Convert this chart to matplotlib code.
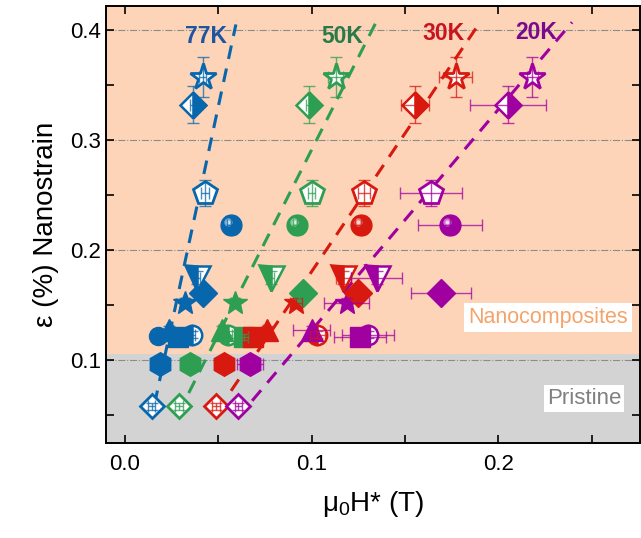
import numpy as np
import matplotlib
matplotlib.use("Agg")
import matplotlib.pyplot as plt
from matplotlib.ticker import MultipleLocator
from matplotlib.transforms import offset_copy

plt.rcParams['font.family'] = ['Liberation Sans', 'DejaVu Sans']

temps = ['77K', '50K', '30K', '20K']
colors = ['#0866AC', '#2E9E52', '#D7190F', '#A0009F']
text_colors = ['#1E55A0', '#2A7A48', '#C8141E', '#7A0A8C']
nan = np.nan

# sample y values (nanostrain, %) and y errors
samples = ['open_diamond', 'hexagon', 'circle', 'half_circle', 'tri_up', 'square',
           'star', 'diamond', 'tri_down', 'sphere', 'pentagon', 'half_diamond', 'open_star']
y_vals = [0.058, 0.0965, 0.122, 0.123, 0.127, 0.121, 0.152, 0.161, 0.175, 0.223, 0.252, 0.332, 0.357]
y_errs = [0.003, 0.003, 0.003, 0.003, 0.004, 0.003, 0.004, 0.004, 0.006, 0.008, 0.012, 0.017, 0.018]

# mu0 H* (T) for each sample at 77K, 50K, 30K, 20K
x_open_diamond = [0.0143, 0.0289, 0.0487, 0.0607]
x_hexagon = [0.0188, 0.0348, 0.0530, 0.0670]
x_circle = [0.0179, nan, nan, nan]
x_half_circle = [0.0357, 0.0554, 0.1030, 0.1300]
x_tri_up = [0.0237, 0.0518, 0.0759, 0.1000]
x_square = [0.0286, 0.0637, 0.0687, 0.1260]
x_star = [0.0320, 0.0590, 0.0916, 0.1187]
x_diamond = [0.0416, 0.0952, 0.1250, 0.1693]
x_tri_down = [0.0384, 0.0780, 0.1170, 0.1348]
x_sphere = [0.0568, 0.0921, 0.1264, 0.1741]
x_pentagon = [0.0429, 0.1000, 0.1280, 0.1639]
x_half_diamond = [0.0366, 0.0988, 0.1554, 0.2053]
x_open_star = [0.0416, 0.1130, 0.1771, 0.2182]

# horizontal errors
xe_open_diamond = [0.002, 0.002, 0.002, 0.002]
xe_hexagon = [0.002, 0.002, 0.002, 0.007]
xe_circle = [0.002, nan, nan, nan]
xe_half_circle = [0.002, 0.002, 0.004, 0.014]
xe_tri_up = [0.002, 0.002, 0.002, 0.010]
xe_square = [0.002, 0.002, 0.002, 0.014]
xe_star = [0.002, 0.002, 0.003, 0.012]
xe_diamond = [0.002, 0.002, 0.003, 0.0163]
xe_tri_down = [0.002, 0.002, 0.004, 0.0135]
xe_sphere = [0.002, 0.002, 0.003, 0.0174]
xe_pentagon = [0.002, 0.002, 0.003, 0.0165]
xe_half_diamond = [0.002, 0.002, 0.0074, 0.0204]
xe_open_star = [0.002, 0.004, 0.0088, 0.003]

# linear guides
fit_x0 = [0.0158, 0.0341, 0.0568, 0.0681]
fit_y0 = [0.060, 0.070, 0.072, 0.063]
fit_y1 = [0.405, 0.407, 0.406, 0.407]
fit_slope = [7.915, 3.357, 2.511, 2.007]
label_x = [0.0545, 0.1278, 0.1818, 0.2315]
label_y = [0.3945, 0.3945, 0.397, 0.398]

xs = [x_open_diamond, x_hexagon, x_circle, x_half_circle, x_tri_up, x_square, x_star,
      x_diamond, x_tri_down, x_sphere, x_pentagon, x_half_diamond, x_open_star]
xes = [xe_open_diamond, xe_hexagon, xe_circle, xe_half_circle, xe_tri_up, xe_square, xe_star,
       xe_diamond, xe_tri_down, xe_sphere, xe_pentagon, xe_half_diamond, xe_open_star]

styles = {
    'open_diamond': dict(marker='D', ms=12.5, mode='open'),
    'hexagon': dict(marker='h', ms=17, mode='full'),
    'circle': dict(marker='o', ms=13, mode='full'),
    'tri_up': dict(marker='^', ms=16, mode='full'),
    'square': dict(marker='s', ms=14, mode='full'),
    'half_circle': dict(marker='o', ms=14, mode='left'),
    'star': dict(marker='*', ms=18, mode='full'),
    'diamond': dict(marker='D', ms=14, mode='full'),
    'tri_down': dict(marker='v', ms=18, mode='left'),
    'sphere': dict(marker='o', ms=15, mode='sphere'),
    'pentagon': dict(marker='p', ms=18, mode='open'),
    'half_diamond': dict(marker='D', ms=13.5, mode='right'),
    'open_star': dict(marker='*', ms=20, mode='open'),
}

fig = plt.figure(figsize=(6.41, 5.38), dpi=100)
ax = fig.add_axes([0.1654, 0.1766, 0.833, 0.8123])

xlim = (-0.0102, 0.2759)
ylim = (0.0246, 0.4218)
ax.set_xlim(*xlim)
ax.set_ylim(*ylim)

ax.axhspan(ylim[0], 0.1055, color='#D3D3D3', zorder=0, lw=0)
ax.axhspan(0.1055, ylim[1], color='#FDD4B8', zorder=0, lw=0)
for gy in [0.1, 0.2, 0.3, 0.4]:
    ax.axhline(gy, color='#8C8C8C', lw=0.8, ls='-.', zorder=0.5)

for i in range(4):
    x1 = fit_x0[i] + (fit_y1[i] - fit_y0[i]) / fit_slope[i]
    ax.plot([fit_x0[i], x1], [fit_y0[i], fit_y1[i]], color=colors[i], lw=2.2,
            ls=(0, (4.5, 3.2)), zorder=2)

sph_trans = offset_copy(ax.transData, fig=fig, x=-2.0, y=2.0, units='points')

for si, name in enumerate(samples):
    st = styles[name]
    for ti in range(4):
        x = xs[si][ti]
        if np.isnan(x):
            continue
        y = y_vals[si]
        c = colors[ti]
        kw = dict(marker=st['marker'], ms=st['ms'], ls='none', zorder=3)
        mode = st['mode']
        if mode == 'open':
            kw.update(mfc='white', mec=c, mew=2.0)
        elif mode in ('left', 'right'):
            kw.update(mfc=c, mec=c, mew=1.8, fillstyle=mode, markerfacecoloralt='white')
        else:
            kw.update(mfc=c, mec=c, mew=1.0)
        ax.plot([x], [y], **kw)
        if mode == 'sphere':
            ax.plot([x], [y], 'o', ms=6, mfc='white', mec='none', alpha=0.45,
                    transform=sph_trans, zorder=3.1)
            ax.plot([x], [y], 'o', ms=3, mfc='white', mec='none', alpha=0.7,
                    transform=sph_trans, zorder=3.2)
        ax.errorbar([x], [y], xerr=[xes[si][ti]], yerr=[y_errs[si]], fmt='none',
                    ecolor=c, elinewidth=1.0, capsize=4, capthick=1.0, alpha=0.75, zorder=4)

for i in range(4):
    ax.text(label_x[i], label_y[i], temps[i], color=text_colors[i], fontsize=16.5,
            fontweight='bold', ha='right', va='center', zorder=5)

ax.text(0.2266, 0.1385, 'Nanocomposites', color='#F4A46A', fontsize=15.5, ha='center',
        va='center', zorder=5, bbox=dict(facecolor='white', edgecolor='none', pad=3))
ax.text(0.2459, 0.0650, 'Pristine', color='#808080', fontsize=16, ha='center',
        va='center', zorder=5, bbox=dict(facecolor='white', edgecolor='none', pad=2))

ax.xaxis.set_major_locator(MultipleLocator(0.1))
ax.xaxis.set_minor_locator(MultipleLocator(0.05))
ax.yaxis.set_major_locator(MultipleLocator(0.1))
ax.yaxis.set_minor_locator(MultipleLocator(0.05))
ax.tick_params(which='both', direction='in', top=True, right=True, length=6, width=1.2,
               labelsize=16)
ax.xaxis.set_major_formatter(matplotlib.ticker.FormatStrFormatter('%.1f'))
ax.yaxis.set_major_formatter(matplotlib.ticker.FormatStrFormatter('%.1f'))
ax.tick_params(axis='x', pad=8)
for sp in ax.spines.values():
    sp.set_linewidth(1.4)

ax.set_xlabel(r'$\mathregular{\mu_0}$H* (T)', fontsize=20, labelpad=10)
ax.set_ylabel('ε (%) Nanostrain', fontsize=20, labelpad=8)

fig.savefig('out.png', dpi=100)
